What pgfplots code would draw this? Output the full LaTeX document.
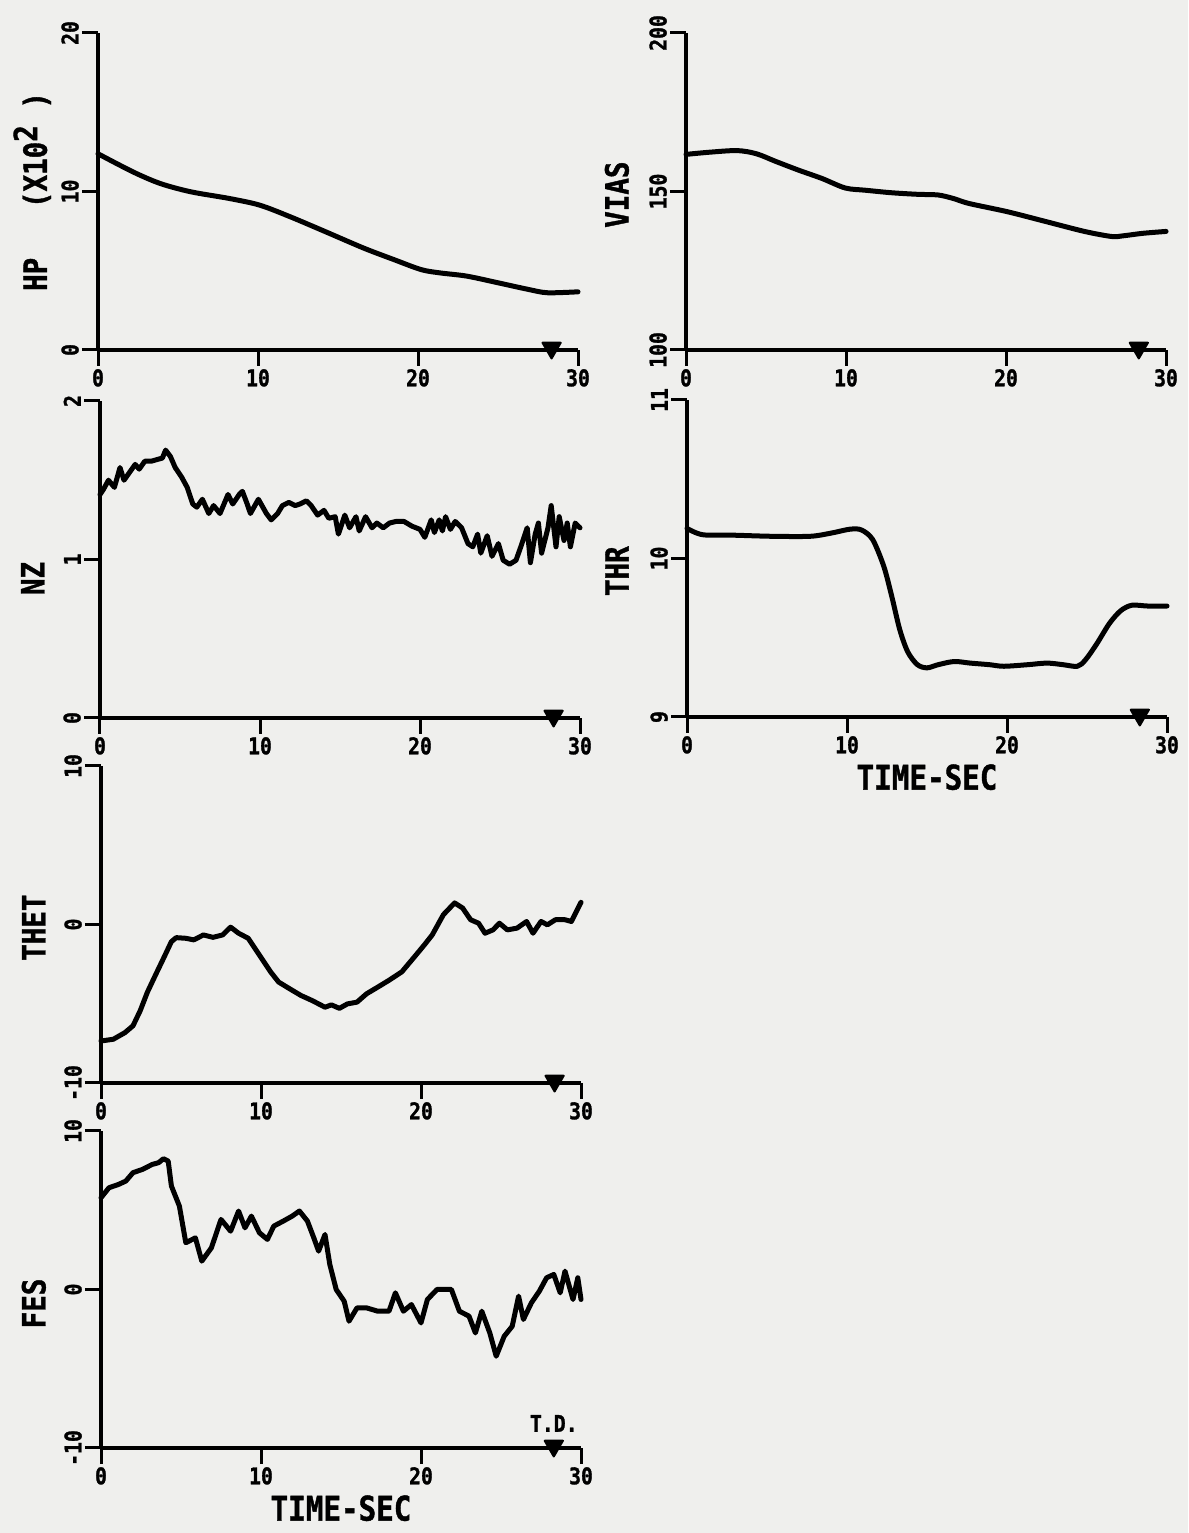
\documentclass[border=0pt]{standalone}
\usepackage{fontspec}
\setmainfont{DejaVu Sans Mono}[FakeStretch=0.86, BoldFeatures={FakeBold=1.2}]
\usepackage{pgfplots}
\pgfplotsset{compat=1.18}
\definecolor{paper}{RGB}{239,239,237}

\pgfplotsset{
  panel/.style={
    scale only axis, width=480pt, height=317pt,
    axis lines*=left,
    xmin=0, xmax=30, xtick={0,10,20,30},
    tick align=outside, major tick length=16pt,
    every tick/.style={line width=3pt, black},
    axis line style={line width=3.5pt, black},
    tick label style={font=\fontsize{23}{23}\selectfont\bfseries},
    /pgf/number format/assume math mode=true,
    yticklabel style={rotate=90, anchor=south, inner sep=3pt},
    xticklabel style={inner sep=3pt},
    ylabel style={font=\fontsize{32}{32}\selectfont\bfseries, anchor=center},
    xlabel style={font=\fontsize{34}{34}\selectfont\bfseries, at={(axis description cs:0.5,-0.19)}, anchor=center},
    clip=false,
  },
  curve/.style={black, line width=5pt, line join=round, line cap=round, mark=none},
  tdmark/.style={black, only marks, mark=triangle*, mark size=10.5pt,
    mark options={rotate=180, fill=black, draw=black, line width=2pt, line join=round, yshift=-2pt}},
}

\begin{document}
\begin{tikzpicture}
\path[use as bounding box, fill=paper] (0pt,0pt) rectangle (1188pt,1533pt);

% HP
\begin{axis}[panel, at={(98pt,1183pt)}, anchor=south west,
  ymin=0, ymax=20, ytick={0,10,20},
  ylabel={HP\ \ \ (X10\raisebox{0.3em}{2}\ )},
  ylabel style={at={(axis description cs:-0.137,0.5)}}]
\addplot[curve, smooth] coordinates {(0,12.38)(2.2,11.23)(3.9,10.5)(5.8,9.98)(8.2,9.56)(10.1,9.14)(12.0,8.41)(14.2,7.47)(16.6,6.43)(18.5,5.7)(20.2,5.07)(21.4,4.86)(23.05,4.66)(25.0,4.24)(26.9,3.82)(28.1,3.61)(30,3.67)};
\addplot[tdmark] coordinates {(28.35,0)};
\end{axis}

% VIAS
\begin{axis}[panel, at={(686pt,1183pt)}, anchor=south west,
  ymin=100, ymax=200, ytick={100,150,200},
  ylabel={VIAS},
  ylabel style={at={(axis description cs:-0.144,0.49)}}]
\addplot[curve, smooth] coordinates {(0,161.7)(1.5,162.4)(3.2,162.9)(4.4,161.9)(5.6,159.5)(7.05,156.7)(8.5,154.1)(9.95,151.1)(11.2,150.4)(12.85,149.6)(14.5,149.1)(15.75,148.9)(16.7,147.8)(17.7,146.2)(20.1,143.6)(22.5,140.5)(24.9,137.4)(26.6,135.8)(27.3,136.0)(28.55,136.8)(30,137.4)};
\addplot[tdmark] coordinates {(28.3,100)};
\end{axis}

% NZ
\begin{axis}[panel, at={(100pt,815pt)}, anchor=south west,
  ymin=0, ymax=2, ytick={0,1,2},
  ylabel={NZ},
  ylabel style={at={(axis description cs:-0.14,0.44)}}]
\addplot[curve] coordinates {(0,1.41)(0.2,1.44)(0.53,1.50)(0.9,1.455)(1.25,1.58)(1.5,1.50)(1.85,1.55)(2.2,1.60)(2.45,1.57)(2.8,1.62)(3.2,1.62)(3.55,1.63)(3.9,1.64)(4.1,1.69)(4.4,1.65)(4.7,1.58)(5.1,1.52)(5.45,1.455)(5.8,1.35)(6.05,1.33)(6.4,1.38)(6.8,1.29)(7.1,1.34)(7.5,1.29)(8.0,1.41)(8.3,1.35)(8.7,1.41)(8.9,1.43)(9.2,1.35)(9.4,1.29)(9.9,1.38)(10.4,1.29)(10.7,1.25)(11.1,1.29)(11.4,1.34)(11.8,1.36)(12.2,1.34)(12.5,1.35)(12.9,1.37)(13.2,1.34)(13.6,1.28)(14.0,1.31)(14.3,1.26)(14.7,1.27)(14.9,1.16)(15.3,1.28)(15.6,1.20)(16.0,1.27)(16.2,1.18)(16.6,1.27)(17.0,1.20)(17.3,1.23)(17.7,1.20)(18.1,1.23)(18.5,1.24)(19.0,1.24)(19.5,1.21)(20.0,1.19)(20.3,1.14)(20.7,1.25)(20.9,1.17)(21.2,1.25)(21.4,1.18)(21.6,1.27)(21.9,1.19)(22.2,1.24)(22.6,1.20)(23.0,1.10)(23.3,1.08)(23.6,1.16)(23.8,1.04)(24.2,1.15)(24.5,1.02)(24.9,1.10)(25.2,0.995)(25.6,0.97)(26.0,0.995)(26.3,1.08)(26.7,1.20)(26.9,0.98)(27.2,1.16)(27.4,1.23)(27.6,1.04)(28.0,1.20)(28.2,1.34)(28.5,1.08)(28.7,1.27)(29.0,1.12)(29.2,1.23)(29.4,1.08)(29.7,1.23)(30,1.20)};
\addplot[tdmark] coordinates {(28.35,0)};
\end{axis}

% THR
\begin{axis}[panel, at={(687pt,816pt)}, anchor=south west,
  ymin=9, ymax=11, ytick={9,10,11},
  ylabel={THR},
  ylabel style={at={(axis description cs:-0.146,0.46)}},
  xlabel={TIME-SEC}]
\addplot[curve, smooth] coordinates {(0,10.19)(0.97,10.15)(2.9,10.147)(5.3,10.14)(7.7,10.14)(9.0,10.16)(10.2,10.185)(10.9,10.18)(11.6,10.12)(12.3,9.95)(12.8,9.76)(13.3,9.55)(13.8,9.41)(14.4,9.33)(15.0,9.31)(15.7,9.33)(16.7,9.35)(17.7,9.34)(18.9,9.33)(19.8,9.32)(21.3,9.33)(22.5,9.34)(23.5,9.33)(24.4,9.32)(24.9,9.36)(25.6,9.46)(26.4,9.59)(27.1,9.67)(27.8,9.705)(28.8,9.70)(30,9.70)};
\addplot[tdmark] coordinates {(28.3,9)};
\end{axis}

% THET
\begin{axis}[panel, at={(101pt,450pt)}, anchor=south west,
  ymin=-10, ymax=10, ytick={-10,0,10},
  ylabel={THET},
  ylabel style={at={(axis description cs:-0.14,0.49)}}]
\addplot[curve] coordinates {(0,-7.35)(0.77,-7.24)(1.5,-6.82)(2.0,-6.39)(2.45,-5.44)(2.9,-4.27)(3.4,-3.2)(3.9,-2.15)(4.4,-1.08)(4.7,-0.83)(5.3,-0.87)(5.8,-0.97)(6.4,-0.66)(7.0,-0.81)(7.6,-0.66)(8.1,-0.17)(8.6,-0.55)(9.2,-0.87)(9.9,-1.93)(10.6,-2.99)(11.1,-3.63)(11.8,-4.06)(12.5,-4.48)(13.2,-4.80)(14.0,-5.22)(14.4,-5.07)(14.9,-5.29)(15.4,-5.01)(16.0,-4.9)(16.6,-4.37)(17.3,-3.95)(18.0,-3.52)(18.8,-2.99)(19.5,-2.15)(20.2,-1.30)(20.7,-0.66)(21.4,0.62)(22.1,1.36)(22.6,1.04)(23.1,0.30)(23.6,0.08)(24.0,-0.55)(24.5,-0.34)(24.9,0.08)(25.4,-0.34)(26.0,-0.23)(26.6,0.19)(27.0,-0.55)(27.5,0.19)(27.9,-0.02)(28.4,0.30)(29.0,0.30)(29.4,0.19)(30,1.40)};
\addplot[tdmark] coordinates {(28.35,-10)};
\end{axis}

% FES
\begin{axis}[panel, at={(101pt,85pt)}, anchor=south west,
  ymin=-10, ymax=10, ytick={-10,0,10},
  ylabel={FES},
  ylabel style={at={(axis description cs:-0.14,0.456)}},
  xlabel={TIME-SEC}]
\addplot[curve] coordinates {(0,5.79)(0.5,6.42)(1.1,6.63)(1.55,6.84)(2.0,7.37)(2.6,7.58)(3.2,7.89)(3.6,8.0)(3.9,8.25)(4.2,8.1)(4.4,6.53)(4.9,5.26)(5.3,2.95)(5.9,3.26)(6.3,1.79)(6.9,2.63)(7.5,4.42)(8.1,3.68)(8.6,4.95)(9.0,3.89)(9.4,4.63)(9.9,3.58)(10.4,3.16)(10.8,4.0)(11.4,4.32)(11.95,4.63)(12.4,4.95)(12.9,4.32)(13.3,3.26)(13.6,2.42)(14.0,3.47)(14.3,1.58)(14.7,0.0)(15.2,-0.74)(15.5,-2.0)(16.0,-1.16)(16.6,-1.16)(17.3,-1.37)(18.0,-1.37)(18.4,-0.21)(18.9,-1.37)(19.4,-0.95)(20.0,-2.11)(20.4,-0.63)(21.0,0.0)(21.9,0.0)(22.4,-1.37)(23.0,-1.68)(23.4,-2.74)(23.8,-1.37)(24.3,-2.74)(24.7,-4.21)(25.2,-2.95)(25.7,-2.32)(26.1,-0.42)(26.4,-1.89)(26.9,-0.84)(27.4,-0.1)(27.85,0.74)(28.3,0.95)(28.7,-0.21)(29.0,1.16)(29.5,-0.63)(29.8,0.74)(30,-0.63)};
\addplot[tdmark] coordinates {(28.3,-10)};
\node[font=\fontsize{23}{23}\selectfont\bfseries, anchor=south, inner sep=0pt] at (axis cs:28.3,-10) [yshift=16pt] {T.D.};
\end{axis}
\end{tikzpicture}
\end{document}
